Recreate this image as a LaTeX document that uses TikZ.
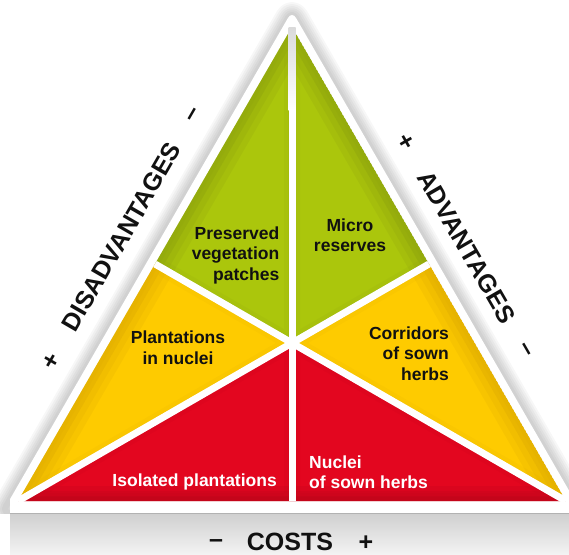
\documentclass[tikz,border=0pt]{standalone}
\usepackage{fontspec}
\setmainfont{Liberation Sans}
\definecolor{grn}{HTML}{ABC60C}
\definecolor{grnD}{HTML}{7A8C10}
\definecolor{ylw}{HTML}{FECB00}
\definecolor{ylwD}{HTML}{C99500}
\definecolor{rd}{HTML}{E3061F}
\definecolor{rdD}{HTML}{A0051A}
\definecolor{txt}{HTML}{111111}
\definecolor{bandtop}{HTML}{CFCFCF}
\definecolor{bandbot}{HTML}{F3F3F3}
\definecolor{gapgrey}{HTML}{DADADA}
\begin{document}
\begin{tikzpicture}[x=1pt,y=-1pt,
  lbl/.style={font=\fontsize{17.5}{20.5}\selectfont\bfseries, inner sep=0pt, text=txt},
  sidelbl/.style={font=\fontsize{25}{30}\selectfont\bfseries, inner sep=0pt, text=txt},
  gapline/.style={white, line width=7pt},
  rim/.style={opacity=0.12},
]
\useasboundingbox (0,0) rectangle (569,554);
\fill[white] (0,0) rectangle (569,554);

% geometry
\coordinate (A) at (292,27);
\coordinate (B) at (18,501);
\coordinate (C) at (566,501);
\coordinate (G) at (292,343);
\coordinate (ML) at (155,264);
\coordinate (MR) at (429,264);
\coordinate (MB) at (292,501);
\coordinate (OA) at (292,11);
\coordinate (OB) at (2,513);
\coordinate (OC) at (582,513);

% bottom band (slab side)
\shade[top color=bandtop, bottom color=bandbot] (10,513) rectangle (569,554);

% soft shadow around the white triangle
\begin{scope}
  \clip (0,0) rectangle (569,513);
  \foreach \w in {26,22,18,14,10,6}
    \draw[black, opacity=0.03, line width=\w pt, line join=round, rounded corners=8pt] (OA)--(OB)--(OC)--cycle;
\end{scope}

% white triangle
\begin{scope}
  \clip (10,0) rectangle (569,513);
  \fill[white, rounded corners=8pt] (OA)--(OB)--(OC)--cycle;
\end{scope}

% green top-left
\begin{scope}
  \clip (A)--(ML)--(G)--cycle;
  \fill[grn] (A)--(ML)--(G)--cycle;
  \foreach \w in {40,28,16} \draw[grnD, rim, line width=\w pt] (A)--(ML);
  \foreach \w in {16,8} \draw[grnD, opacity=0.07, line width=\w pt] (A)--(ML)--(G)--cycle;
\end{scope}
% green top-right
\begin{scope}
  \clip (A)--(MR)--(G)--cycle;
  \fill[grn] (A)--(MR)--(G)--cycle;
  \foreach \w in {40,28,16} \draw[grnD, rim, line width=\w pt] (A)--(MR);
  \foreach \w in {16,8} \draw[grnD, opacity=0.07, line width=\w pt] (A)--(MR)--(G)--cycle;
\end{scope}
% yellow left
\begin{scope}
  \clip (ML)--(B)--(G)--cycle;
  \fill[ylw] (ML)--(B)--(G)--cycle;
  \foreach \w in {40,28,16} \draw[ylwD, rim, line width=\w pt] (ML)--(B);
  \foreach \w in {16,8} \draw[ylwD, opacity=0.07, line width=\w pt] (ML)--(B)--(G)--cycle;
\end{scope}
% yellow right
\begin{scope}
  \clip (MR)--(C)--(G)--cycle;
  \fill[ylw] (MR)--(C)--(G)--cycle;
  \foreach \w in {40,28,16} \draw[ylwD, rim, line width=\w pt] (MR)--(C);
  \foreach \w in {16,8} \draw[ylwD, opacity=0.07, line width=\w pt] (MR)--(C)--(G)--cycle;
\end{scope}
% red left
\begin{scope}
  \clip (B)--(MB)--(G)--cycle;
  \fill[rd] (B)--(MB)--(G)--cycle;
  \foreach \w in {30,20,10} \draw[rdD, rim, line width=\w pt] (B)--(MB);
  \foreach \w in {16,8} \draw[rdD, opacity=0.07, line width=\w pt] (B)--(MB)--(G)--cycle;
\end{scope}
% red right
\begin{scope}
  \clip (C)--(MB)--(G)--cycle;
  \fill[rd] (C)--(MB)--(G)--cycle;
  \foreach \w in {30,20,10} \draw[rdD, rim, line width=\w pt] (C)--(MB);
  \foreach \w in {16,8} \draw[rdD, opacity=0.07, line width=\w pt] (C)--(MB)--(G)--cycle;
\end{scope}

% white gaps
\draw[gapline] (A) -- (MB);
\shade[top color=gapgrey, bottom color=white] (288.5,27) rectangle (295.5,110);
\draw[gapline] (G) -- (ML);
\draw[gapline] (G) -- (MR);
\draw[gapline] (G) -- (B);
\draw[gapline] (G) -- (C);

% inner labels (base anchor = last line)
\node[lbl, align=right, anchor=base east] (pv) at (279.5,280) {Preserved\\vegetation\\patches};
\node[lbl, align=center, anchor=base] (mr) at (350,251.7) {Micro\\reserves};
\node[lbl, align=center, anchor=base] (pn) at (178,364) {Plantations\\in nuclei};
\node[lbl, align=right, anchor=base east] (cs) at (449,380) {Corridors\\of sown\\herbs};
\node[lbl, text=white, anchor=base east] (ip) at (277,486) {Isolated plantations};
\node[lbl, text=white, align=left, anchor=base west] (ns) at (309,488.5) {Nuclei\\of sown herbs};

% side labels
\node[sidelbl, rotate=60] (dis) at (121.5,237) {DISADVANTAGES};
\node[sidelbl, rotate=60] (dplus) at (52,362) {+};
\node[sidelbl, rotate=60] (dminus) at (195,115) {–};
\node[sidelbl, rotate=-60] (adv) at (466.5,247) {ADVANTAGES};
\node[sidelbl, rotate=-60] (aplus) at (405,142) {+};
\node[sidelbl, rotate=-60] (aminus) at (524,351) {–};
\node[sidelbl, anchor=base] (costs) at (290,550) {COSTS};
\node[sidelbl] (cminus) at (216,543.5) {–};
\node[sidelbl] (cplus) at (366,543.5) {+};
\end{tikzpicture}
\end{document}
